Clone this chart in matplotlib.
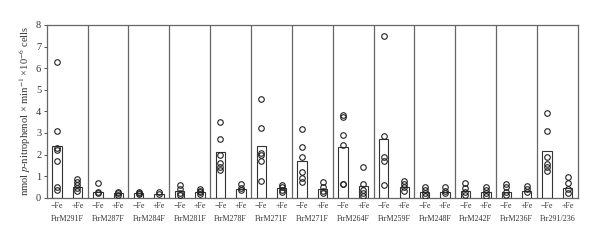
import matplotlib
matplotlib.use("Agg")
import matplotlib.pyplot as plt
import numpy as np

plt.rcParams['font.family'] = ['Liberation Serif', 'DejaVu Serif']
plt.rcParams['mathtext.fontset'] = 'stix'

groups = ["FtrM291F", "FtrM287F", "FtrM284F", "FtrM281F", "FtrM278F", "FtrM271F",
          "FtrM271F", "FtrM264F", "FtrM259F", "FtrM248F", "FtrM242F", "FtrM236F", "Ftr291/236"]
conditions = ["\u2212Fe", "+Fe"]

minus_fe_mean = [2.39, 0.28, 0.23, 0.30, 2.10, 2.39, 1.70, 2.35, 2.70, 0.25, 0.31, 0.26, 2.18]
plus_fe_mean = [0.51, 0.20, 0.17, 0.25, 0.40, 0.43, 0.39, 0.53, 0.48, 0.28, 0.26, 0.32, 0.45]

minus_fe_points = [
    [6.3, 3.1, 2.3, 2.2, 1.7, 0.5, 0.38],
    [0.66, 0.28, 0.2],
    [0.28, 0.22, 0.18],
    [0.59, 0.39, 0.23, 0.12],
    [3.49, 2.7, 2.0, 1.59, 1.44, 1.28],
    [4.56, 3.24, 2.05, 1.98, 1.68, 0.76],
    [3.2, 2.35, 1.87, 1.2, 0.93, 0.71],
    [3.83, 3.72, 2.92, 2.46, 0.65, 0.62],
    [7.5, 2.86, 1.9, 1.68, 0.6],
    [0.48, 0.36, 0.23, 0.1],
    [0.68, 0.43, 0.25, 0.12],
    [0.62, 0.49, 0.25, 0.12],
    [3.92, 3.07, 1.87, 1.56, 1.44, 1.25],
]
plus_fe_points = [
    [0.85, 0.72, 0.58, 0.45, 0.3],
    [0.28, 0.2, 0.12],
    [0.25, 0.15],
    [0.4, 0.32, 0.25, 0.17],
    [0.65, 0.46, 0.36],
    [0.59, 0.48, 0.36, 0.25],
    [0.71, 0.51, 0.31, 0.23],
    [1.42, 0.62, 0.36, 0.23, 0.1],
    [0.77, 0.63, 0.48, 0.32],
    [0.51, 0.32, 0.2],
    [0.51, 0.36, 0.2, 0.08],
    [0.56, 0.4, 0.25],
    [0.94, 0.68, 0.39, 0.23],
]

fig = plt.figure(figsize=(6.0, 2.42), dpi=100)
ax = fig.add_axes([0.078, 0.183, 0.885, 0.714])

n = len(groups)
xm = np.arange(n) + 0.25
xp = np.arange(n) + 0.75
bw = 0.23
ax.bar(xm, minus_fe_mean, width=bw, facecolor='white', edgecolor='#333333', linewidth=0.8, zorder=2)
ax.bar(xp, plus_fe_mean, width=bw, facecolor='white', edgecolor='#333333', linewidth=0.8, zorder=2)
for i in range(n):
    ax.plot([xm[i]] * len(minus_fe_points[i]), minus_fe_points[i], 'o', mfc='none', mec='#222222',
            ms=4.0, mew=0.8, zorder=3)
    ax.plot([xp[i]] * len(plus_fe_points[i]), plus_fe_points[i], 'o', mfc='none', mec='#222222',
            ms=4.0, mew=0.8, zorder=3)
for i in range(1, n):
    ax.axvline(i, color='#666666', linewidth=0.9, zorder=1)

ax.set_xlim(0, n)
ax.set_ylim(0, 8)
ax.set_yticks(range(0, 9))
ax.tick_params(axis='y', labelsize=7.5, length=2.5, width=0.6, pad=1.5, colors='#333333')
ticks = []
labels = []
for i in range(n):
    ticks += [xm[i], xp[i]]
    labels += conditions
ax.set_xticks(ticks)
ax.set_xticklabels(labels, fontsize=5.8, color='#333333')
ax.tick_params(axis='x', length=0, pad=3)
for i, g in enumerate(groups):
    ax.text(i + 0.5, -0.10, g, transform=ax.get_xaxis_transform(), ha='center', va='top',
            fontsize=5.8, color='#333333')
for s in ax.spines.values():
    s.set_color('#666666')
    s.set_linewidth(0.9)
ax.set_ylabel("nmol $p$-nitrophenol \u00d7 min$^{-1}$ \u00d710$^{-6}$ cells", fontsize=7.6,
              color='#333333', labelpad=2)

fig.savefig("out.png", dpi=100)
